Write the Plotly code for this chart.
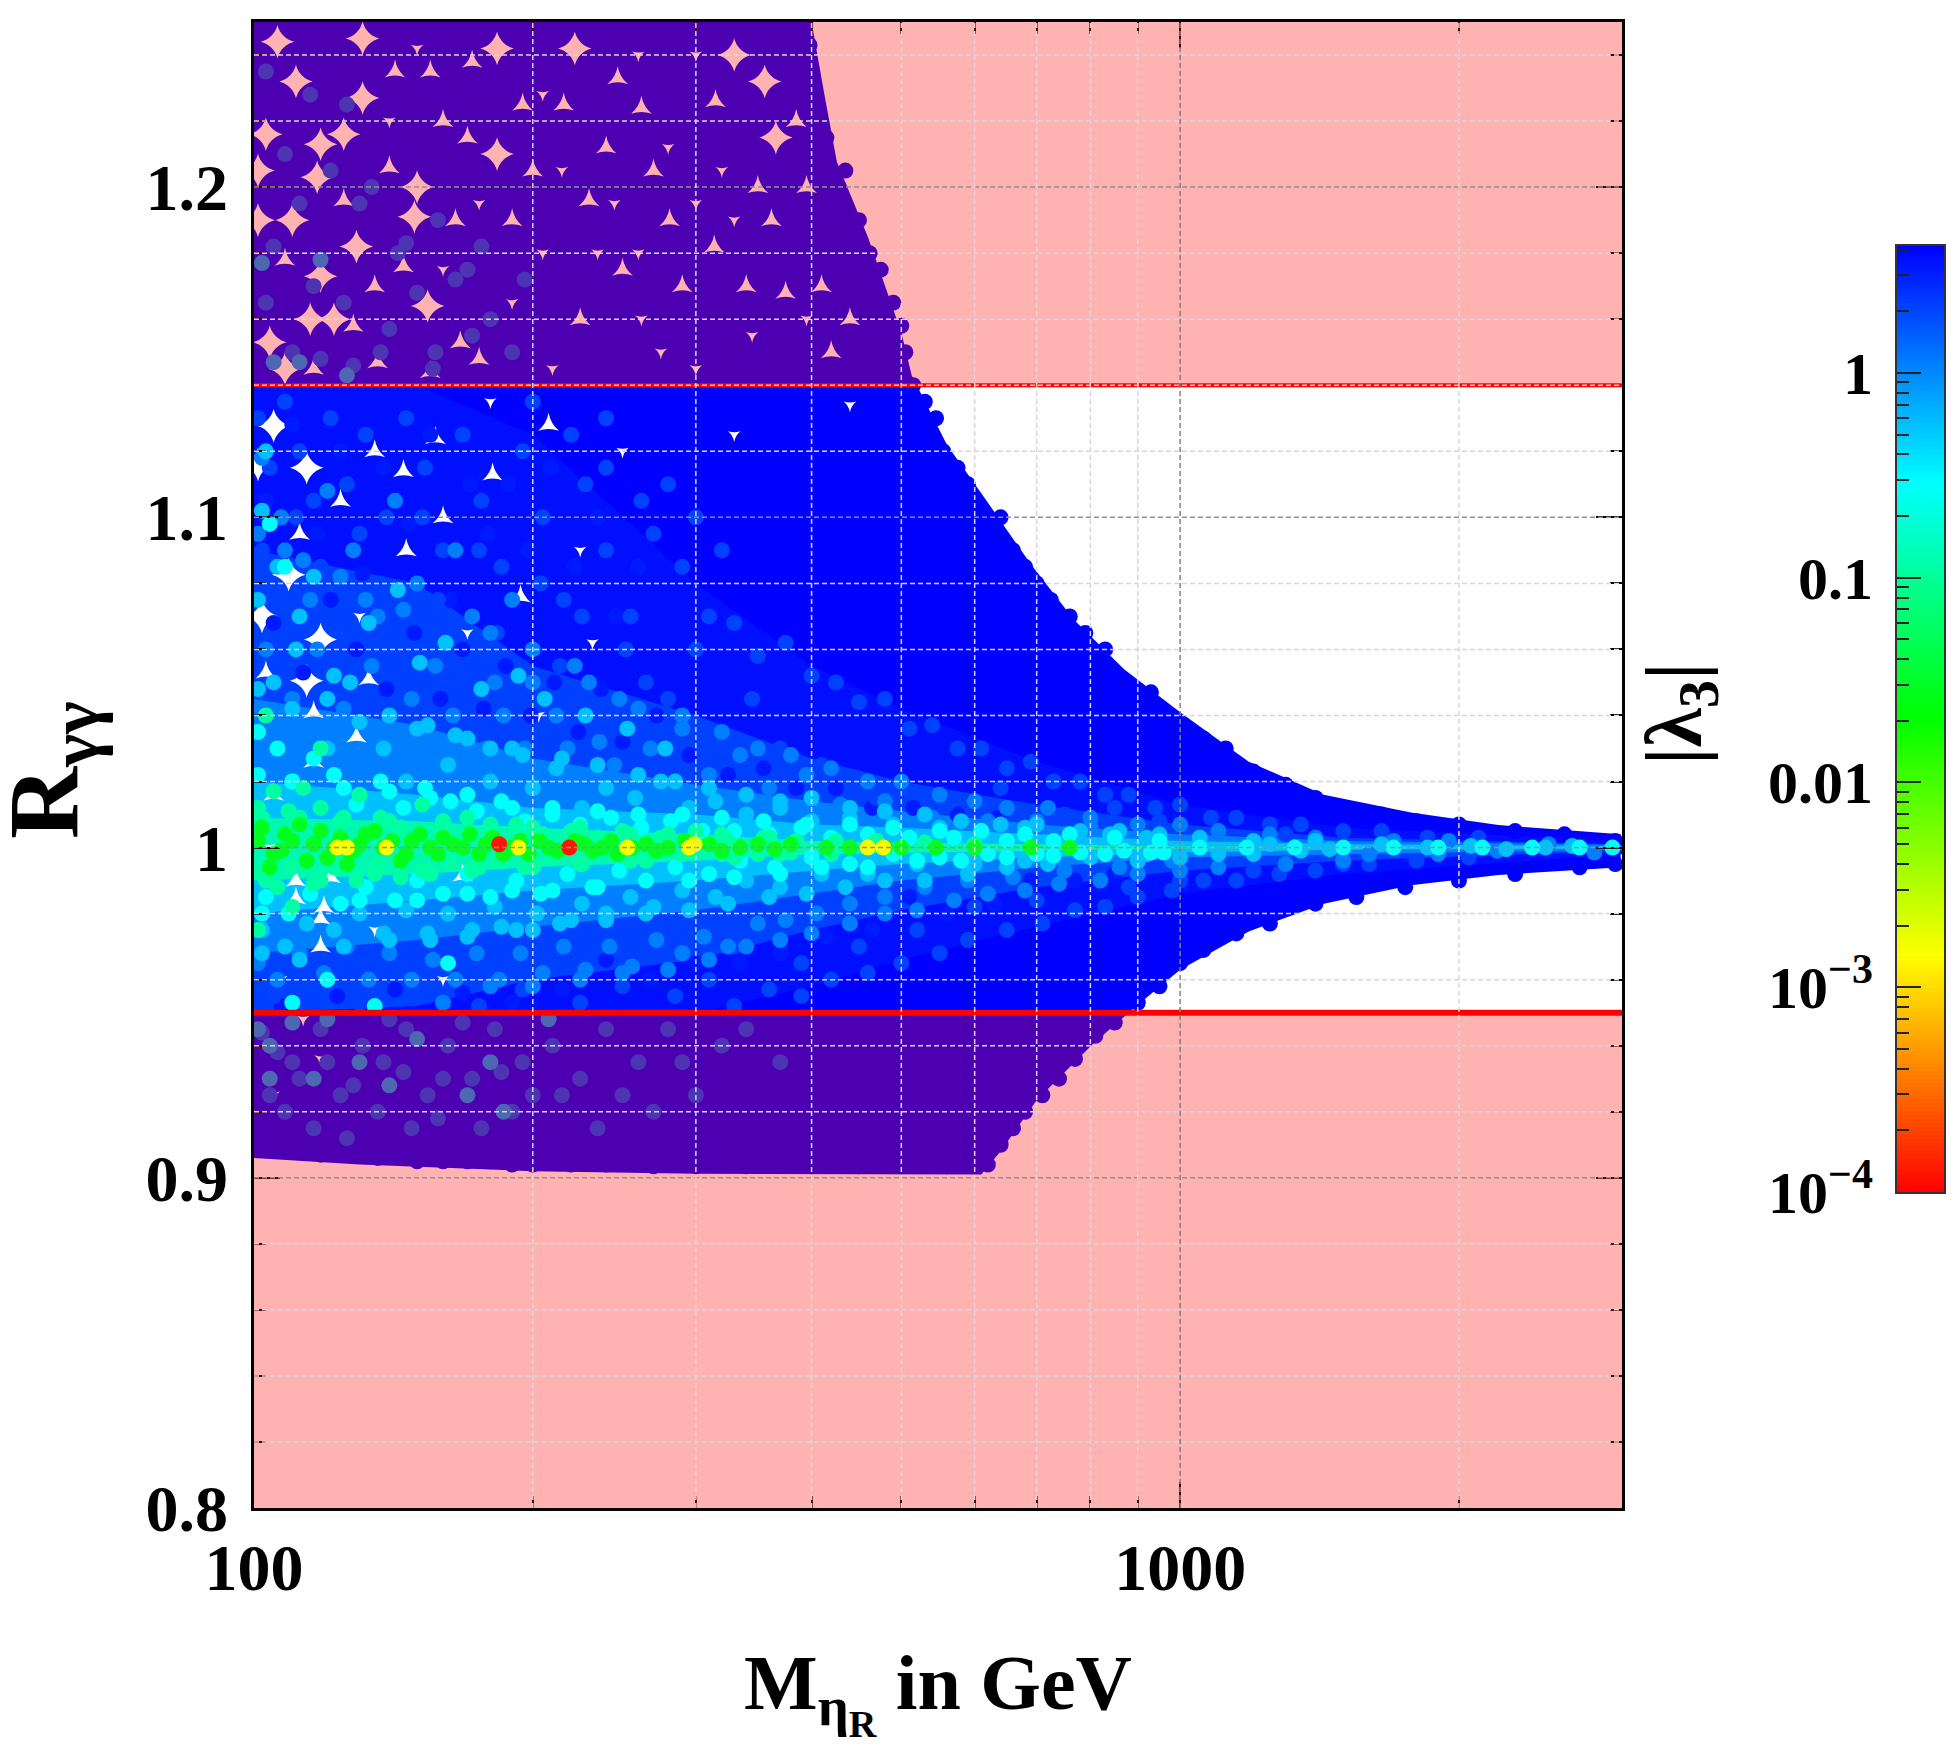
import numpy as np
import plotly.graph_objects as go

W, H = 1959, 1749
FONT = "Liberation Serif"

# ---- axis values
x_major = [100, 1000]
x_minor = [200, 300, 400, 500, 600, 700, 800, 900, 2000, 3000]
y_major = [0.8, 0.9, 1.0, 1.1, 1.2]
y_major_text = ["<b>0.8</b>", "<b>0.9</b>", "<b>1</b>", "<b>1.1</b>", "<b>1.2</b>"]
y_minor = [0.82, 0.84, 0.86, 0.88, 0.92, 0.94, 0.96, 0.98, 1.02, 1.04, 1.06, 1.08, 1.12, 1.14, 1.16, 1.18, 1.22, 1.24]
limit_upper = 1.14
limit_lower = 0.95

cb_major = [1, 0.1, 0.01, 0.001, 0.0001]
cb_text = ["<b>1</b>", "<b>0.1</b>", "<b>0.01</b>", "<b>10<sup>−3</sup></b>", "<b>10<sup>−4</sup></b>"]
cb_minor = [2, 3, 4, 0.2, 0.3, 0.4, 0.5, 0.6, 0.7, 0.8, 0.9, 0.02, 0.03, 0.04, 0.05, 0.06, 0.07, 0.08, 0.09,
            0.002, 0.003, 0.004, 0.005, 0.006, 0.007, 0.008, 0.009, 0.0002, 0.0003, 0.0004, 0.0005, 0.0006, 0.0007, 0.0008, 0.0009]
log_min, log_max = -4.0, 0.62

# ---- outline of the point cloud
env_up = [(100, 1.25), (400, 1.25), (413, 1.228), (426, 1.2076), (460, 1.185), (500, 1.156), (513, 1.143), (537, 1.132),
          (560, 1.122), (618, 1.105), (689, 1.086), (768, 1.069), (870, 1.054), (1000, 1.041), (1186, 1.026),
          (1429, 1.016), (1775, 1.0106), (2206, 1.0068), (2990, 1.004)]
env_low = [(100, 0.906), (130, 0.904), (200, 0.902), (300, 0.9012), (450, 0.901), (610, 0.901), (640, 0.908), (700, 0.9235), (805, 0.9405),
           (897, 0.952), (1000, 0.963), (1186, 0.9746), (1429, 0.983), (1775, 0.9886), (2206, 0.9917), (2990, 0.994)]

# ---- colour bands of the dense cloud: x, upper edge, lower edge
band_x = [100, 150, 200, 300, 400, 500, 700, 1000, 1500, 3000]
band_a_up = [1.14, 1.14, 1.125, 1.08, 1.055, 1.042, 1.026, 1.013, 1.006, 1.002]
band_a_lo = [0.95, 0.95, 0.95, 0.95, 0.958, 0.966, 0.976, 0.986, 0.992, 0.998]
band_b_up = [1.09, 1.08, 1.055, 1.04, 1.027, 1.02, 1.013, 1.007, 1.003, 1.001]
band_b_lo = [0.95, 0.952, 0.96, 0.966, 0.975, 0.981, 0.988, 0.993, 0.996, 0.999]
band_c_up = [1.045, 1.037, 1.027, 1.019, 1.014, 1.011, 1.007, 1.004, 1.002, 1.0008]
band_c_lo = [0.968, 0.972, 0.976, 0.981, 0.986, 0.99, 0.994, 0.997, 0.998, 0.9993]
band_d_up = [1.02, 1.016, 1.012, 1.01, 1.007, 1.006, 1.004, 1.002, 1.001, 1.0004]
band_d_lo = [0.98, 0.984, 0.987, 0.99, 0.993, 0.995, 0.997, 0.9985, 0.9993, 0.9997]
band_e_up = [1.009, 1.008, 1.006, 1.004, 1.002, 1.0015, 1.001, 1.0003, 1.0002, 1.0001]
band_e_lo = [0.99, 0.992, 0.994, 0.996, 0.998, 0.9985, 0.999, 0.9997, 0.9998, 0.9999]

# ---- gaps between the points in the sparse corner
gaps_big = [(106, 1.244), (131, 1.227), (103, 1.216), (118, 1.213), (117, 1.203), (104, 1.153), (118, 1.173), (129, 1.182),
            (149, 1.191), (154, 1.164), (183, 1.21), (222, 1.242), (183, 1.242), (131, 1.245), (101, 1.19), (115, 1.16),
            (330, 1.24), (356, 1.232), (366, 1.215), (105, 1.1277), (114, 1.115), (109, 1.0826), (102, 1.07), (118, 1.063),
            (114, 1.0505), (101, 1.116), (111, 1.232), (125, 1.216), (101, 1.205), (110, 1.19), (122, 1.16), (108, 1.145), (150, 1.2)]
gaps_mid = [(262, 1.224), (247, 1.233), (315, 1.226), (362, 1.19), (216, 1.225), (314, 1.182), (281, 1.19), (167, 1.153),
            (155, 1.144), (136, 1.147), (116, 1.145), (145, 1.114), (157, 1.124), (181, 1.113), (194, 1.076), (208, 1.128),
            (133, 1.051), (103, 1.053), (116, 1.041), (129, 1.0336), (116, 1.026), (105, 1.016), (121, 0.991), (168, 0.9915),
            (111, 0.99), (111, 0.9846), (119, 0.982), (118, 0.9785), (118, 0.97), (160, 1.22), (172, 1.238), (200, 1.205),
            (240, 1.212), (230, 1.196), (270, 1.205), (290, 1.17), (340, 1.17), (350, 1.2), (385, 1.22), (395, 1.2),
            (250, 1.175), (225, 1.16), (375, 1.168), (410, 1.17), (440, 1.16), (420, 1.15), (140, 1.206), (125, 1.196),
            (142, 1.235), (108, 1.178), (128, 1.158), (124, 1.105), (135, 1.12), (146, 1.09), (160, 1.1), (112, 1.095),
            (155, 1.235), (170, 1.215), (195, 1.225), (145, 1.176), (165, 1.19), (190, 1.19), (135, 1.17), (175, 1.148)]
gaps_small = [(150, 1.242), (205, 1.228), (235, 1.18), (262, 1.16), (300, 1.24), (320, 1.205), (345, 1.155), (275, 1.15),
              (205, 1.18), (190, 1.165), (175, 1.195), (160, 1.175), (210, 1.145), (300, 1.145), (260, 1.24), (280, 1.212),
              (395, 1.16), (180, 1.135), (250, 1.12), (225, 1.09), (232, 1.062), (203, 1.04), (330, 1.125), (440, 1.134),
              (130, 1.07), (170, 1.065), (104, 1.0), (135, 0.975), (160, 0.96), (107, 0.96), (113, 0.948), (105, 0.925), (118, 0.936),
              (140, 1.22), (215, 1.205), (245, 1.195), (300, 1.195), (330, 1.19), (260, 1.18)]

# ---- individual points, grouped by the colour read for them: (mass, ratio)
pts_edge = [(398, 1.243), (405, 1.225), (415, 1.215), (428, 1.2), (435, 1.205), (440, 1.19), (450, 1.19), (462, 1.18), (475, 1.175), (490, 1.165),
            (500, 1.158), (505, 1.15), (515, 1.14), (530, 1.135), (545, 1.13), (555, 1.12), (575, 1.115), (590, 1.11), (610, 1.1), (640, 1.1),
            (660, 1.09), (680, 1.085), (700, 1.08), (725, 1.075), (760, 1.07), (790, 1.065), (830, 1.06), (870, 1.05), (930, 1.047), (1000, 1.037),
            (1060, 1.033), (1120, 1.03), (1200, 1.023), (1300, 1.019), (1400, 1.015), (1500, 1.012), (1650, 1.01), (1800, 1.008), (2000, 1.007),
            (2300, 1.005), (2600, 1.004), (2950, 1.002), (620, 0.904), (640, 0.91), (660, 0.915), (680, 0.92), (710, 0.925), (740, 0.93), (770, 0.936),
            (810, 0.943), (850, 0.947), (900, 0.953), (950, 0.958), (1000, 0.965), (1060, 0.969), (1150, 0.974), (1250, 0.977), (1400, 0.983),
            (1550, 0.985), (1750, 0.988), (2000, 0.99), (2300, 0.992), (2700, 0.994), (2950, 0.995), (101, 0.91), (104, 0.909), (108, 0.908),
            (112, 0.908), (118, 0.907), (124, 0.907), (130, 0.907), (136, 0.906), (143, 0.907), (150, 0.905), (160, 0.905), (170, 0.905), (180, 0.905),
            (190, 0.904), (200, 0.904), (220, 0.904), (240, 0.904), (270, 0.9035), (300, 0.9035), (340, 0.9035), (400, 0.9035), (450, 0.9035),
            (500, 0.9035), (560, 0.9035)]
pts_deep = [(103, 1.105), (110, 1.128), (117, 1.095), (124, 1.12), (131, 1.083), (138, 1.115), (147, 1.098), (155, 1.125), (163, 1.075), (171, 1.11),
            (179, 1.095), (188, 1.11), (198, 1.09), (209, 1.115), (222, 1.085), (235, 1.1), (246, 1.07), (260, 1.085), (105, 1.068), (113, 1.053),
            (121, 1.075), (129, 1.06), (139, 1.048), (149, 1.065), (159, 1.045), (168, 1.06), (177, 1.042), (187, 1.055), (199, 1.04), (211, 1.05),
            (224, 1.035), (237, 1.048), (250, 1.032), (272, 1.04), (295, 1.028), (325, 1.022), (355, 1.024), (385, 1.018), (425, 1.018), (465, 1.012),
            (515, 1.012), (575, 1.01), (635, 1.009), (107, 0.952), (123, 0.955), (142, 0.957), (168, 0.956), (190, 0.953), (215, 0.957), (240, 0.966),
            (268, 0.96), (300, 0.965), (335, 0.965), (370, 0.968), (415, 0.973), (465, 0.975), (510, 0.985), (560, 0.98), (630, 0.983), (690, 0.99),
            (770, 0.99), (850, 0.992)]
pts_blue = [(101, 1.13), (104, 1.115), (108, 1.135), (112, 1.12), (116, 1.105), (121, 1.13), (126, 1.11), (132, 1.125), (139, 1.1),
            (146, 1.13), (153, 1.115), (160, 1.09), (168, 1.125), (176, 1.105), (185, 1.085), (195, 1.12), (205, 1.1), (216, 1.075),
            (228, 1.11), (240, 1.09), (255, 1.07), (270, 1.095), (102, 1.09), (106, 1.075), (111, 1.1), (118, 1.085), (124, 1.065),
            (130, 1.095), (137, 1.08), (144, 1.06), (152, 1.1), (158, 1.075), (166, 1.05), (175, 1.09), (183, 1.065), (192, 1.045),
            (204, 1.08), (214, 1.055), (226, 1.07), (238, 1.04), (252, 1.06), (265, 1.05), (280, 1.045), (300, 1.06), (320, 1.03),
            (345, 1.045), (370, 1.03), (410, 1.025), (470, 1.015), (560, 1.013), (330, 0.97), (390, 0.965), (450, 0.97), (520, 0.975),
            (600, 0.982), (700, 0.984), (640, 1.018), (750, 1.01), (850, 1.012), (950, 1.008), (1100, 1.005), (1300, 1.004),
            (880, 0.988), (1000, 0.99), (1200, 0.993), (1500, 0.995), (105, 0.955), (115, 0.958), (130, 0.953), (150, 0.956),
            (175, 0.952), (195, 0.957), (225, 0.953), (250, 0.958), (285, 0.955), (310, 0.96),
            (290, 1.085), (310, 1.07), (330, 1.068), (350, 1.058), (375, 1.062), (400, 1.052), (425, 1.05), (450, 1.044), (480, 1.045), (510, 1.036),
            (540, 1.037), (575, 1.03), (610, 1.03), (650, 1.024), (690, 1.026), (730, 1.02), (780, 1.02), (830, 1.016), (880, 1.016), (940, 1.012),
            (1000, 1.013), (1080, 1.009), (1150, 1.009), (1250, 1.007), (1350, 1.007), (1500, 1.005), (1650, 1.005), (1850, 1.003), (2100, 1.003),
            (330, 0.952), (360, 0.957), (390, 0.955), (420, 0.96), (460, 0.962), (500, 0.965), (550, 0.968), (590, 0.972), (650, 0.975), (710, 0.977),
            (770, 0.981), (830, 0.982), (900, 0.985), (980, 0.987), (1060, 0.99), (1150, 0.99), (1280, 0.992), (1400, 0.993), (1600, 0.995),
            (1800, 0.996), (2050, 0.997), (200, 1.135), (220, 1.125), (240, 1.115), (262, 1.105), (280, 1.11), (300, 1.1), (320, 1.09), (240, 1.13)]
pts_azure = [(102, 1.118), (107, 1.1), (113, 1.087), (120, 1.108), (128, 1.09), (136, 1.07), (142, 1.105), (150, 1.08), (157, 1.055),
             (165, 1.09), (172, 1.07), (182, 1.05), (190, 1.075), (200, 1.06), (212, 1.04), (222, 1.055), (236, 1.032), (248, 1.045),
             (268, 1.03), (290, 1.036), (310, 1.022), (335, 1.028), (360, 1.018), (395, 1.022), (430, 1.013), (480, 1.014), (540, 1.009),
             (620, 1.008), (700, 1.008), (800, 1.006), (103, 1.06), (110, 1.045), (117, 1.06), (125, 1.042), (134, 1.055), (141, 1.035),
             (148, 1.045), (156, 1.03), (164, 1.04), (178, 1.03), (186, 1.04), (196, 1.03), (207, 1.022), (218, 1.03), (232, 1.02),
             (245, 1.025), (101, 0.965), (106, 0.96), (112, 0.968), (119, 0.962), (126, 0.97), (133, 0.96), (140, 0.968), (148, 0.96),
             (156, 0.966), (165, 0.96), (174, 0.968), (184, 0.96), (194, 0.968), (205, 0.962), (216, 0.97), (228, 0.963), (242, 0.97),
             (256, 0.964), (272, 0.972), (290, 0.968), (306, 0.973), (325, 0.97), (350, 0.977), (375, 0.978), (405, 0.98),
             (440, 0.983), (480, 0.985), (530, 0.988), (590, 0.99), (660, 0.991), (750, 0.993), (860, 0.994), (980, 0.996),
             (101, 1.095), (108, 1.09), (115, 1.075), (124, 1.082), (132, 1.075), (145, 1.072), (180, 1.065), (200, 1.05), (230, 1.05), (260, 1.042),
             (290, 1.04), (320, 1.035), (350, 1.03), (380, 1.028), (420, 1.024), (460, 1.02), (500, 1.02), (550, 1.016), (600, 1.014), (650, 1.012),
             (720, 1.012), (800, 1.009), (900, 1.007), (1000, 1.007), (1100, 1.005), (1250, 1.004), (1400, 1.003), (160, 0.953), (180, 0.958),
             (200, 0.958), (225, 0.96), (250, 0.962), (280, 0.963), (310, 0.966), (340, 0.97), (370, 0.972), (400, 0.974), (440, 0.977), (480, 0.98),
             (520, 0.981), (570, 0.984), (620, 0.986), (680, 0.987), (740, 0.989), (820, 0.99), (900, 0.992), (1000, 0.993), (1100, 0.994),
             (1300, 0.995), (1500, 0.996), (1700, 1.002), (1950, 1.002), (2200, 0.999), (2500, 1.001), (2800, 0.9985), (1600, 0.998), (1900, 0.998)]
pts_sky = [(101, 1.075), (105, 1.05), (112, 1.07), (120, 1.03), (127, 1.05), (138, 1.03), (146, 1.02), (154, 1.037), (162, 1.025),
           (170, 1.033), (180, 1.02), (190, 1.03), (200, 1.018), (212, 1.024), (226, 1.012), (240, 1.018), (258, 1.015), (275, 1.02),
           (295, 1.012), (315, 1.014), (340, 1.01), (370, 1.012), (400, 1.008), (440, 1.009), (490, 1.007), (550, 1.006),
           (610, 1.005), (680, 1.006), (760, 1.003), (840, 1.004), (920, 1.003), (1050, 1.003), (1200, 1.002), (1400, 1.002),
           (102, 0.975), (108, 0.97), (114, 0.977), (122, 0.975), (130, 0.98), (138, 0.974), (146, 0.981), (154, 0.974), (162, 0.98),
           (172, 0.975), (182, 0.982), (192, 0.975), (202, 0.98), (214, 0.977), (226, 0.983), (240, 0.98), (255, 0.985), (270, 0.982),
           (290, 0.987), (315, 0.985), (340, 0.99), (370, 0.988), (410, 0.992), (460, 0.992), (520, 0.995), (600, 0.995), (680, 0.996),
           (800, 0.997), (920, 0.998), (1100, 0.998), (1350, 0.999),
           (101, 1.048), (110, 1.042), (120, 1.045), (130, 1.038), (140, 1.04), (150, 1.036), (165, 1.034), (180, 1.03), (195, 1.028), (215, 1.027),
           (235, 1.025), (260, 1.022), (285, 1.02), (310, 1.018), (340, 1.016), (370, 1.014), (400, 1.015), (440, 1.012), (480, 1.011), (530, 1.01),
           (580, 1.008), (640, 1.007), (700, 1.007), (780, 1.005), (860, 1.005), (950, 1.004), (102, 0.968), (112, 0.966), (125, 0.97), (140, 0.972),
           (155, 0.972), (170, 0.973), (185, 0.976), (200, 0.975), (220, 0.978), (240, 0.978), (265, 0.98), (295, 0.981), (325, 0.983), (360, 0.985),
           (395, 0.986), (435, 0.988), (480, 0.99), (530, 0.99), (590, 0.992), (650, 0.994), (720, 0.995), (900, 0.996), (1000, 0.997), (1200, 0.998),
           (102, 1.102), (106, 1.085), (111, 1.06), (116, 1.082), (122, 1.052), (133, 1.068), (143, 1.078), (151, 1.056), (161, 1.062), (103, 1.12),
           (176, 1.048), (193, 1.052), (206, 1.045), (228, 1.04), (253, 1.036), (278, 1.03), (1250, 1.001), (1450, 0.9995), (1650, 1.001), (1850, 1.0),
           (2060, 1.0005), (2250, 0.9995), (2480, 1.0), (2650, 1.0005)]
pts_cyan = [(101, 1.035), (104, 1.098), (106, 1.03), (110, 1.02), (116, 1.027), (122, 1.022), (129, 1.013), (137, 1.02), (145, 1.012),
            (153, 1.018), (163, 1.014), (174, 1.011), (185, 1.014), (196, 1.008), (210, 1.01), (225, 1.007), (243, 1.009), (262, 1.006),
            (282, 1.008), (305, 1.005), (330, 1.005), (360, 1.004), (390, 1.006), (420, 1.003), (460, 1.004), (510, 1.003), (570, 1.003),
            (650, 1.002), (730, 1.002), (103, 0.985), (109, 0.98), (115, 0.986), (124, 0.983), (132, 0.988), (142, 0.984), (150, 0.99),
            (160, 0.986), (170, 0.992), (180, 0.985), (192, 0.99), (204, 0.986), (218, 0.992), (232, 0.988), (248, 0.993), (265, 0.99),
            (285, 0.994), (310, 0.992), (335, 0.996), (365, 0.994), (400, 0.997), (440, 0.995), (490, 0.998), (550, 0.997), (620, 0.998),
            (700, 0.998), (780, 0.9985), (870, 0.999), (960, 0.9985), (1050, 1.0), (1180, 1.0), (1330, 1.0),
            (1500, 1.0), (1700, 1.0), (1900, 1.0), (2120, 1.0), (2400, 1.0), (2700, 1.0), (2930, 1.0), (120, 0.96), (135, 0.952), (110, 0.953), (162, 0.965), (108, 1.085),
            (101, 1.022), (110, 1.02), (125, 1.018), (140, 1.017), (155, 1.015), (170, 1.016), (190, 1.012), (210, 1.012), (235, 1.011), (260, 1.01),
            (290, 1.01), (320, 1.009), (355, 1.008), (395, 1.007), (440, 1.007), (490, 1.006), (550, 1.005), (610, 1.005), (680, 1.004), (760, 1.004),
            (850, 1.003), (950, 1.002), (102, 0.98), (130, 0.984), (150, 0.984), (170, 0.986), (190, 0.987), (210, 0.987), (235, 0.988), (295, 0.99),
            (330, 0.991), (370, 0.992), (410, 0.994), (460, 0.994), (520, 0.996), (580, 0.996), (650, 0.997), (730, 0.9975), (830, 0.998), (930, 0.9985)]
pts_mint = [(101, 1.012), (105, 1.017), (109, 1.011), (113, 1.018), (118, 1.012), (124, 1.008), (130, 1.016), (137, 1.009), (144, 1.006),
            (152, 1.013), (160, 1.005), (170, 1.009), (180, 1.005), (192, 1.007), (205, 1.004), (220, 1.005), (235, 1.003), (255, 1.004),
            (275, 1.003), (300, 1.005), (325, 1.002), (355, 1.003), (385, 1.002), (425, 1.002), (470, 1.002), (530, 1.0015), (600, 1.001),
            (102, 0.992), (106, 0.988), (110, 0.994), (116, 0.989), (122, 0.994), (129, 0.99), (136, 0.995), (144, 0.991), (152, 0.993),
            (162, 0.996), (172, 0.993), (184, 0.996), (196, 0.994), (210, 0.997), (226, 0.995), (245, 0.998), (265, 0.996), (290, 0.998),
            (320, 0.998), (350, 0.998), (380, 0.9985), (101, 0.975), (103, 1.04), (110, 0.982), (118, 1.03),
            (102, 1.009), (112, 1.009), (125, 1.009), (140, 1.008), (160, 1.008), (180, 1.007), (200, 1.006), (225, 1.006), (250, 1.005), (280, 1.004),
            (320, 1.004), (360, 1.003), (103, 0.99), (118, 0.99), (135, 0.992), (155, 0.992), (175, 0.994), (200, 0.994), (225, 0.995), (255, 0.996),
            (330, 0.997), (370, 0.998), (420, 0.998)]
pts_green = [(101, 1.002), (105, 0.998), (108, 1.004), (112, 1.007), (116, 1.001), (120, 0.997), (124, 1.003), (128, 0.999), (132, 1.004),
             (138, 1.0), (144, 0.996), (148, 1.002), (155, 1.0), (160, 1.003), (168, 1.0), (175, 0.998), (181, 1.003), (190, 1.0),
             (198, 0.998), (208, 1.0), (227, 1.001), (238, 1.0), (247, 0.998), (265, 1.001), (280, 1.0), (310, 1.001), (335, 1.0),
             (350, 1.001), (380, 1.001), (415, 1.0), (440, 1.0), (480, 1.0), (500, 1.0), (545, 1.0), (600, 1.0), (690, 1.0), (760, 1.0),
             (102, 1.006), (104, 0.994), (107, 0.999), (110, 1.002), (114, 0.996), (118, 1.005), (122, 1.0), (126, 0.995), (130, 1.001), (135, 1.005),
             (141, 1.002), (146, 0.998), (151, 1.004), (158, 0.998), (164, 1.001), (171, 1.004), (178, 1.001), (186, 0.998), (194, 1.002), (203, 1.002),
             (213, 0.999), (222, 1.002), (232, 0.999), (243, 1.002), (256, 1.0), (272, 0.999), (292, 1.002), (320, 0.999), (365, 0.9995)]
pts_yellow = [(123, 1.0), (126, 1.0), (139, 1.0), (193, 1.0), (253, 1.0), (295, 1.0), (299, 1.001), (460, 1.0), (478, 1.0)]
pts_red = [(184, 1.001), (219, 1.0)]
# lighter points showing through the shaded regions
pts_shade_a = [(103, 1.235), (108, 1.21), (112, 1.195), (116, 1.17), (121, 1.205), (125, 1.165), (130, 1.195), (137, 1.15), (143, 1.18), (150, 1.168),
               (157, 1.15), (165, 1.172), (172, 1.155), (180, 1.16), (190, 1.15), (103, 1.165), (110, 1.15), (118, 1.148), (126, 1.225), (134, 1.2),
               (146, 1.183), (158, 1.19), (170, 1.175), (105, 1.182), (115, 1.228), (128, 1.146), (140, 1.157), (156, 1.145), (176, 1.182), (196, 1.172),
               (102, 0.944), (106, 0.938), (112, 0.93), (118, 0.945), (124, 0.925), (131, 0.94), (138, 0.935), (146, 0.945), (154, 0.925), (162, 0.94),
               (172, 0.93), (182, 0.945), (195, 0.935), (108, 0.92), (116, 0.915), (126, 0.912), (136, 0.92), (148, 0.915), (160, 0.93), (176, 0.915),
               (190, 0.92), (210, 0.94), (225, 0.93), (240, 0.945), (104, 0.925), (120, 0.935), (140, 0.948), (168, 0.947), (200, 0.925), (260, 0.935),
               (280, 0.945), (300, 0.925), (320, 0.94), (110, 0.935), (128, 0.928), (145, 0.932), (158, 0.918), (185, 0.932), (215, 0.925), (235, 0.915),
               (250, 0.925), (270, 0.92), (290, 0.935), (340, 0.945), (370, 0.935)]
pts_shade_b = [(102, 1.177), (105, 1.147), (118, 1.178), (112, 1.147), (126, 1.143), (101, 0.945), (104, 0.94), (110, 0.947), (120, 0.948), (130, 0.935),
               (150, 0.942), (170, 0.925), (186, 0.92), (104, 0.93), (116, 0.93), (140, 0.928), (180, 0.935), (208, 0.948)]

colorscale = [[0, "#ff0000"], [0.25, "#ffff00"], [0.5, "#00ff00"], [0.75, "#00ffff"], [1, "#0000ff"]]
fig = go.Figure()


def fill(xu, yu, xl, yl, color):
    fig.add_trace(go.Scatter(x=list(xu) + list(xl)[::-1], y=list(yu) + list(yl)[::-1], mode="lines", fill="toself",
                             fillcolor=color, line=dict(width=0), hoverinfo="skip", showlegend=False, xaxis="x", yaxis="y"))


fill([p[0] for p in env_up], [p[1] for p in env_up], [p[0] for p in env_low], [p[1] for p in env_low], "#0000ff")
fill(band_x, band_a_up, band_x, band_a_lo, "#0010ff")
fill(band_x, band_b_up, band_x, band_b_lo, "#0040ff")
fill(band_x, band_c_up, band_x, band_c_lo, "#0080ff")
fill(band_x, band_d_up, band_x, band_d_lo, "#00c0ff")
fill(band_x, band_e_up, band_x, band_e_lo, "#00f8b0")


def dots(pairs, logval, size=16):
    fig.add_trace(go.Scatter(x=[p[0] for p in pairs], y=[p[1] for p in pairs], mode="markers", showlegend=False, hoverinfo="skip",
                             marker=dict(size=size, color=[logval] * len(pairs), coloraxis="coloraxis", line=dict(width=0))))


for g, s, sym in ((gaps_big, 24, "star-diamond"), (gaps_mid, 15, "star-triangle-up"), (gaps_small, 9, "star-triangle-down")):
    fig.add_trace(go.Scatter(x=[p[0] for p in g], y=[p[1] for p in g], mode="markers", showlegend=False, hoverinfo="skip",
                             marker=dict(size=s, symbol=sym, color="#ffffff", line=dict(width=0))))

dots(pts_edge, 0.62)
dots(pts_shade_a, 0.28)
dots(pts_shade_b, -0.05)
dots(pts_deep, 0.5)
dots(pts_blue, 0.32)
dots(pts_azure, 0.05)
dots(pts_sky, -0.25)
dots(pts_cyan, -0.55)
dots(pts_mint, -0.95)
dots(pts_green, -1.55)
dots(pts_yellow, -2.8)
dots(pts_red, -3.9)

# colour bar as its own small panel
levels = np.linspace(log_min, log_max, 240)
fig.add_trace(go.Heatmap(x=[0, 1], y=10 ** levels, z=[[v, v] for v in levels], coloraxis="coloraxis", xaxis="x2", yaxis="y2",
                         hoverinfo="skip", showlegend=False))

shapes = [
    dict(type="rect", xref="x domain", x0=0, x1=1, yref="y", y0=limit_upper, y1=1.25, fillcolor="rgba(255,0,0,0.3)", line=dict(width=0), layer="above"),
    dict(type="rect", xref="x domain", x0=0, x1=1, yref="y", y0=0.8, y1=limit_lower, fillcolor="rgba(255,0,0,0.3)", line=dict(width=0), layer="above"),
    dict(type="line", xref="x domain", x0=0, x1=1, yref="y", y0=limit_upper, y1=limit_upper, line=dict(color="#ff0000", width=4), layer="above"),
    dict(type="line", xref="x domain", x0=0, x1=1, yref="y", y0=limit_lower, y1=limit_lower, line=dict(color="#ff0000", width=6), layer="above"),
]
DASH = "5px,3px"
for v in y_minor:
    shapes.append(dict(type="line", xref="x domain", x0=0, x1=1, yref="y", y0=v, y1=v, line=dict(color="#d8d8d8", width=1.5, dash=DASH), layer="above"))
for v in y_major[1:]:
    shapes.append(dict(type="line", xref="x domain", x0=0, x1=1, yref="y", y0=v, y1=v, line=dict(color="#909090", width=1.5, dash=DASH), layer="above"))
for v in x_minor[:-1]:
    shapes.append(dict(type="line", xref="x", x0=v, x1=v, yref="y domain", y0=0, y1=1, line=dict(color="#d8d8d8", width=1.5, dash=DASH), layer="above"))
shapes.append(dict(type="line", xref="x", x0=1000, x1=1000, yref="y domain", y0=0, y1=1, line=dict(color="#808080", width=1.5, dash=DASH), layer="above"))

L, R, T, B = 254, 1622, 22, 1508
CL, CR, CT, CB = 1897, 1944, 246, 1192
axis_common = dict(automargin=False, showline=True, linecolor="black", linewidth=2.5, mirror="allticks", ticks="inside", tickcolor="black", tickwidth=2,
                   ticklen=26, showgrid=False, zeroline=False, tickfont=dict(family=FONT, size=66, color="black"))
annotations = [
    dict(text="<b>R<sub>γγ</sub></b>", xref="paper", yref="paper", x=50 / W, y=1 - 770 / H, showarrow=False, textangle=-90,
         xanchor="center", yanchor="middle", font=dict(family=FONT, size=100, color="black")),
    dict(text="<b>M<sub>η<sub>R</sub></sub> in GeV</b>", xref="paper", yref="paper", x=938 / W, y=1 - 1692 / H, showarrow=False,
         xanchor="center", yanchor="middle", font=dict(family=FONT, size=78, color="black")),
    dict(text="<b>|λ<sub>3</sub>|</b>", xref="paper", yref="paper", x=1680 / W, y=1 - 714 / H, showarrow=False, textangle=-90,
         xanchor="center", yanchor="middle", font=dict(family=FONT, size=80, color="black")),
]
fig.update_layout(
    width=W, height=H, autosize=False, margin=dict(l=0, r=0, t=0, b=0, autoexpand=False), paper_bgcolor="white", plot_bgcolor="white",
    showlegend=False, shapes=shapes, annotations=annotations,
    coloraxis=dict(colorscale=colorscale, cmin=log_min, cmax=log_max, showscale=False),
    xaxis=dict(type="log", domain=[L / W, R / W], range=[2, np.log10(3000)], tickvals=x_major, ticktext=["<b>100</b>", "<b>1000</b>"], ticklabelstandoff=0, **axis_common,
               minor=dict(tickvals=x_minor, ticks="inside", ticklen=12, tickwidth=2, tickcolor="black")),
    yaxis=dict(domain=[1 - B / H, 1 - T / H], range=[0.8, 1.25], tickvals=y_major, ticktext=y_major_text, ticklabelstandoff=10, **axis_common,
               minor=dict(tickvals=y_minor, ticks="inside", ticklen=12, tickwidth=2, tickcolor="black")),
    xaxis2=dict(domain=[CL / W, CR / W], range=[0, 1], anchor="y2", showticklabels=False, showgrid=False, zeroline=False, ticks="",
                automargin=False, showline=True, linecolor="#333333", linewidth=2, mirror=True),
    yaxis2=dict(type="log", domain=[1 - CB / H, 1 - CT / H], range=[log_min, log_max], anchor="x2", side="left", tickvals=cb_major, ticktext=cb_text,
                automargin=False, showline=True, linecolor="#333333", linewidth=2, mirror=True, ticks="inside", tickcolor="#222222", tickwidth=1.5, ticklen=24,
                showgrid=False, zeroline=False, ticklabelstandoff=10, tickfont=dict(family=FONT, size=60, color="black"),
                minor=dict(tickvals=cb_minor, ticks="inside", ticklen=12, tickwidth=1.5, tickcolor="#222222")),
)
fig.write_html("out.html", config={"displayModeBar": False},
               post_script="document.body.style.margin='0';document.body.style.overflow='hidden';")
